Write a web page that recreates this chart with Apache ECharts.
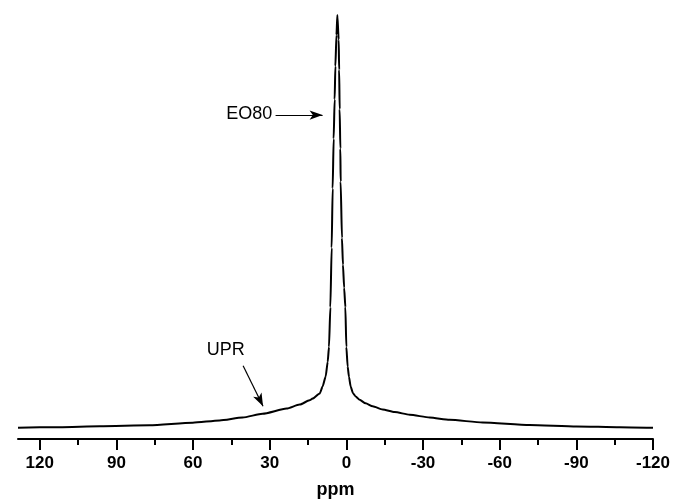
<!DOCTYPE html>
<html>
<head>
<meta charset="utf-8">
<script src="https://cdn.jsdelivr.net/npm/echarts@6/dist/echarts.min.js"></script>
<style>
html,body{margin:0;padding:0;background:#fff;}
#chart{width:673px;height:504px;}
</style>
</head>
<body>
<div id="chart"></div>
<script>
// Chemical shift (ppm) and intensity (a.u., peak = 100)
var ppm = [128.5, 112.2, 96.5, 77, 60.1, 49.6, 40.6, 32.8, 23.4, 18.3, 14.4, 13.2, 10.4, 9.3, 8.1, 7.3, 6.8, 6.26, 5.75, 5.36, 4.97, 4.58, 4.3, 3.87, 3.52,
           3.01, 2.82, 2.62, 2.35, 2.23, 1.72, 1.33, 0.86, 0.39, 0, -0.51, -1.02, -1.68, -2.58, -3.64, -5.2, -7.55, -10.3, -14.2, -18.9, -24.8, -32.6, -40.4, -53.3, -71.7, -90.1, -107, -120];
var intensity = [2.66, 2.8, 2.99, 3.22, 3.86, 4.39, 5.07, 5.96, 7.17, 8.11, 9.11, 9.53, 10.75, 12.38, 14.72, 18.2, 21.7, 31.1, 45.1, 59.1, 70.8, 80.1, 87.9, 95.3, 100,
                 94.2, 87.1, 77.8, 68.5, 60.7, 47.4, 41.1, 35.7, 31.1, 21.7, 17.1, 14.7, 12.4, 10.8, 10.05, 9.23, 8.41, 7.71, 6.96, 6.36, 5.72, 5.07, 4.53, 3.9, 3.32, 2.97, 2.78, 2.64];
var majorTicks = [120, 90, 60, 30, 0, -30, -60, -90, -120];
var minorTicks = [105, 75, 45, 15, -15, -45, -75, -105];
var axisName = 'ppm';
// annotations in data units: [ppm, intensity]
var eoLabel = {text: 'EO80', at: [29.0, 76.6]};
var eoArrow = [[27.7, 76.4], [9.3, 76.4]];
var uprLabel = {text: 'UPR', at: [47.2, 20.9]};
var uprArrow = [[40.4, 17.3], [32.6, 7.7]];

var FONT = '"Liberation Sans", Arial, sans-serif';
var chart = echarts.init(document.getElementById('chart'), null, {renderer: 'canvas'});
var data = ppm.map(function (p, i) { return [p, intensity[i]]; });

chart.setOption({
  animation: false,
  backgroundColor: '#fff',
  grid: {left: 18, right: 20, top: 15, bottom: 61, containLabel: false},
  xAxis: [{
    type: 'value', inverse: true, min: -120, max: 128.5,
    position: 'bottom',
    name: axisName, nameLocation: 'middle', nameGap: 42,
    nameTextStyle: {fontFamily: FONT, fontWeight: 'bold', fontSize: 18, color: '#000'},
    axisLine: {show: true, onZero: false, lineStyle: {color: '#000', width: 2}},
    axisTick: {show: true, inside: false, length: 11, lineStyle: {color: '#000', width: 2}, customValues: majorTicks},
    axisLabel: {show: true, margin: 16, fontFamily: FONT, fontWeight: 'bold', fontSize: 17, color: '#000', customValues: majorTicks},
    splitLine: {show: false}
  }, {
    type: 'value', inverse: true, min: -120, max: 128.5,
    position: 'bottom',
    axisLine: {show: false, onZero: false},
    axisTick: {show: true, inside: false, length: 6, lineStyle: {color: '#000', width: 2}, customValues: minorTicks},
    axisLabel: {show: false},
    splitLine: {show: false}
  }],
  yAxis: {type: 'value', min: 0, max: 100, show: false},
  series: [{
    type: 'line', xAxisIndex: 0, data: data, showSymbol: false, symbol: 'none',
    smooth: 0.2, smoothMonotone: 'x',
    lineStyle: {color: '#000', width: 2},
    markLine: {
      silent: true, animation: false,
      symbol: ['none', 'arrow'], symbolSize: [7, 13],
      lineStyle: {color: '#000', width: 1.2, type: 'solid'},
      label: {show: false},
      data: [
        [{coord: eoArrow[0]}, {coord: eoArrow[1]}],
        [{coord: uprArrow[0]}, {coord: uprArrow[1]}]
      ]
    },
    markPoint: {
      silent: true, animation: false, symbol: 'circle', symbolSize: 0,
      data: [
        {coord: eoLabel.at, label: {show: true, formatter: eoLabel.text, position: 'left', distance: 0, fontFamily: FONT, fontSize: 18, color: '#000'}},
        {coord: uprLabel.at, label: {show: true, formatter: uprLabel.text, position: 'inside', fontFamily: FONT, fontSize: 18, color: '#000'}}
      ]
    }
  }]
});
</script>
</body>
</html>
